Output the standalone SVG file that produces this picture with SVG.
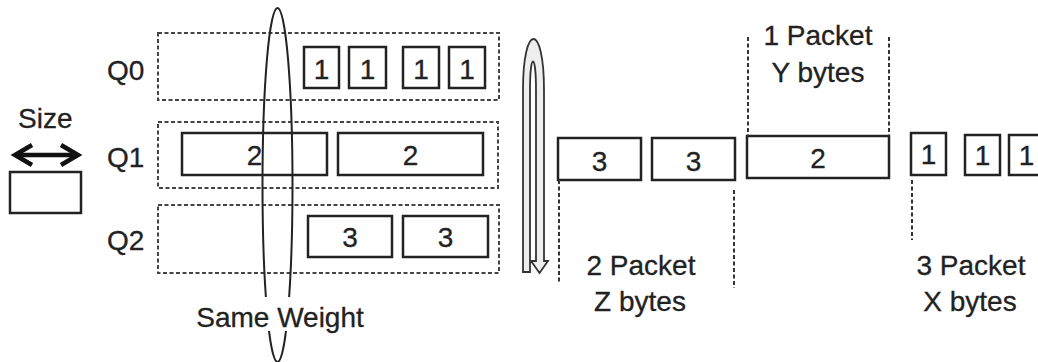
<svg xmlns="http://www.w3.org/2000/svg" width="1038" height="362" viewBox="0 0 1038 362">
<style>
text{font-family:"Liberation Sans",Arial,sans-serif;font-size:28px;fill:#222;stroke:#222;stroke-width:0.3}
.c{text-anchor:middle}
.pk{fill:#fff;stroke:#222;stroke-width:2.5}
.q{fill:none;stroke:#444;stroke-width:2;stroke-dasharray:4 2.5}
.g{fill:none;stroke:#333;stroke-width:2;stroke-dasharray:4 2.5}
.ln{fill:none;stroke:#222;stroke-width:2}
.dbl{fill:none;stroke:#111;stroke-width:4.5;stroke-linejoin:miter}
</style>
<rect width="1038" height="362" fill="#fff"/>
<g id="legend">
<text x="18" y="128">Size</text>
<rect class="pk" x="10" y="172" width="71" height="41"/>
</g>
<g id="Q0">
<text x="107" y="80">Q0</text>
<rect class="q" x="158" y="33" width="341" height="67"/>
<rect class="pk" x="304" y="47" width="35" height="41"/><text class="c" x="321.5" y="79" font-size="26">1</text>
<rect class="pk" x="349" y="47" width="37" height="41"/><text class="c" x="367.5" y="79" font-size="26">1</text>
<rect class="pk" x="403" y="47" width="36" height="41"/><text class="c" x="421" y="79" font-size="26">1</text>
<rect class="pk" x="449" y="47" width="36" height="41"/><text class="c" x="467" y="79" font-size="26">1</text>
</g>
<g id="Q1">
<text x="107" y="167">Q1</text>
<rect class="q" x="158" y="122" width="340" height="66"/>
<rect class="pk" x="182" y="133" width="145" height="42"/><text class="c" x="254.5" y="165">2</text>
<rect class="pk" x="338" y="133" width="145" height="42"/><text class="c" x="410.5" y="165">2</text>
</g>
<g id="Q2">
<text x="107" y="250">Q2</text>
<rect class="q" x="158" y="205" width="341" height="68"/>
<rect class="pk" x="308" y="216" width="84" height="41"/><text class="c" x="350" y="247">3</text>
<rect class="pk" x="403" y="216" width="85" height="41"/><text class="c" x="445.5" y="247">3</text>
</g>
<g id="out3a"><rect class="pk" x="558" y="138" width="83" height="42"/><text class="c" x="599.5" y="171">3</text></g>
<g id="out3b"><rect class="pk" x="652" y="138" width="83" height="42"/><text class="c" x="693.5" y="171">3</text></g>
<g id="out2"><rect class="pk" x="747" y="136" width="142" height="42"/><text class="c" x="818" y="168">2</text></g>
<g id="out1a"><rect class="pk" x="911" y="133" width="35" height="42"/><text class="c" x="928.5" y="164" font-size="26">1</text></g>
<g id="out1b"><rect class="pk" x="965" y="135" width="35" height="40"/><text class="c" x="982.5" y="165" font-size="26">1</text></g>
<g id="out1c"><rect class="pk" x="1009" y="135" width="35" height="40"/><text class="c" x="1026.5" y="165" font-size="26">1</text></g>
<g id="connectors">
<path class="dbl" d="M17,155 H77"/>
<path class="dbl" d="M32,145 L15,155 L32,165 M61,145 L78,155 L61,165"/>
<ellipse class="ln" cx="277.5" cy="185" rx="15" ry="177"/>
<path d="M523,272 L523,90 C523,22 544,22 544,90 L544,261 L548,261 L539.5,273 L531,261 L536,261 L536,90 C536,52 530,52 530,90 L530,272 Z" fill="#eee" stroke="#333" stroke-width="1.8"/>
<path class="g" d="M748,37 V136 M889,37 V136 M559,180 V282 M734,190 V288 M912,180 V240"/>
</g>
<g id="labels">
<rect x="190" y="297" width="180" height="34" fill="#fff"/>
<text class="c" x="280" y="327">Same Weight</text>
<text class="c" x="818" y="45">1 Packet</text>
<text class="c" x="818" y="82">Y bytes</text>
<text class="c" x="641" y="275">2 Packet</text>
<text class="c" x="640" y="311">Z bytes</text>
<text class="c" x="971" y="275">3 Packet</text>
<text class="c" x="970" y="311">X bytes</text>
</g>
</svg>
